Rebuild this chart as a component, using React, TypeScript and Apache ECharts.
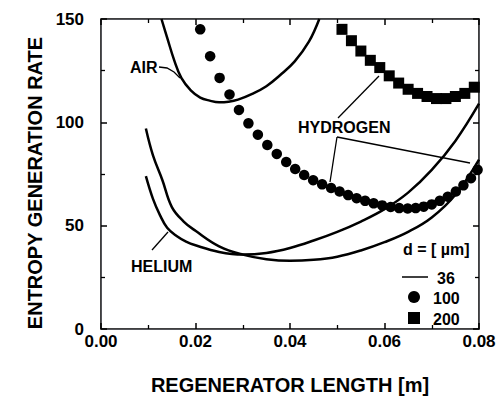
import React, { useEffect, useRef } from "react";
import * as echarts from "echarts";

// Regenerator length [m] and entropy generation rate
const airLength = [0.0128, 0.014, 0.0155, 0.017, 0.019, 0.021, 0.023, 0.025, 0.027, 0.029, 0.032, 0.035, 0.038, 0.041, 0.044, 0.0462];
const airRate = [150, 141, 130, 121.5, 115.5, 112, 110.5, 109.7, 110, 111, 113.8, 117.5, 123, 129.5, 139, 150];

const heliumLength = [0.0095, 0.011, 0.0125, 0.014, 0.016, 0.018, 0.02, 0.025, 0.03, 0.035, 0.04, 0.045, 0.05, 0.055, 0.06, 0.065, 0.07, 0.075, 0.08];
const heliumRate = [74, 63, 55, 49, 45, 42.3, 40.5, 37.3, 36, 36.8, 39.2, 42.8, 47, 52, 58, 66, 77, 91, 109];

const hydrogen36Length = [0.0095, 0.011, 0.013, 0.015, 0.0175, 0.02, 0.025, 0.03, 0.035, 0.04, 0.045, 0.05, 0.055, 0.06, 0.065, 0.07, 0.075, 0.08];
const hydrogen36Rate = [97, 84, 72, 59, 52, 47.5, 40, 36, 33.8, 33, 33.5, 35, 38, 42, 47, 54, 65, 82];

const hydrogen100Length = [0.021, 0.0231, 0.0251, 0.0272, 0.0292, 0.0312, 0.0332, 0.0352, 0.0372, 0.0392, 0.0411, 0.043, 0.0449, 0.0468, 0.0487, 0.0505, 0.0523, 0.0541, 0.0559, 0.0577, 0.0595, 0.0613, 0.0631, 0.0649, 0.0666, 0.0683, 0.07, 0.0717, 0.0734, 0.0751, 0.0767, 0.0783, 0.0797];
const hydrogen100Rate = [145, 132, 121.5, 113.5, 106, 99.5, 94, 89, 84.7, 80.8, 77.4, 74.5, 72, 70, 68.2, 66.5, 64.8, 63.3, 62, 60.8, 59.8, 59, 58.5, 58.3, 58.5, 59.2, 60.3, 62, 64, 66.5, 69.5, 73, 77];

const hydrogen200Length = [0.051, 0.053, 0.055, 0.057, 0.059, 0.061, 0.063, 0.065, 0.067, 0.069, 0.071, 0.073, 0.075, 0.077, 0.079];
const hydrogen200Rate = [145, 139.5, 134.5, 130, 126.5, 122.5, 119, 116, 114, 112.5, 111.5, 111.5, 112.5, 114, 117];

const legendLabels = ["36", "100", "200"];

const pairs = (xs: number[], ys: number[]) => xs.map((x, i) => [x, ys[i]]);

const FONT = "Liberation Sans, Arial, Helvetica, sans-serif";

export default function App() {
  const ref = useRef<HTMLDivElement>(null);

  useEffect(() => {
    if (!ref.current) return;
    const chart = echarts.init(ref.current, undefined, { renderer: "svg" });

    const axisCommon = () => ({
      axisLine: { show: true, onZero: false },
      axisTick: { show: true, inside: true, length: 6, lineStyle: { color: "#000", width: 1.5 } },
      minorTick: { show: true, splitNumber: 2, length: 4, lineStyle: { color: "#000", width: 1.3 } },
      splitLine: { show: false },
    });

    const lineSeries = (xs: number[], ys: number[]) => ({
      type: "line",
      name: "36",
      data: pairs(xs, ys),
      symbol: "none",
      smooth: 0.4,
      lineStyle: { color: "#000", width: 2.5 },
      itemStyle: { color: "#000" },
      z: 3,
    });

    const txt = (text: string, x: number, y: number, size = 16) => ({
      type: "text",
      x,
      y,
      style: { text, fill: "#000", font: `bold ${size}px ${FONT}`, align: "left", verticalAlign: "middle" },
      z: 10,
    });
    const seg = (pts: number[][], w = 1.3) => ({
      type: "polyline",
      shape: { points: pts },
      style: { stroke: "#000", lineWidth: w, fill: "none" },
      z: 10,
    });

    chart.setOption({
      animation: false,
      backgroundColor: "#fff",
      grid: { left: 101, right: 20, top: 19, bottom: 69, show: true, borderColor: "#000", borderWidth: 1.5 },
      xAxis: [
        {
          type: "value",
          min: 0,
          max: 0.08,
          interval: 0.02,
          position: "bottom",
          name: "REGENERATOR LENGTH [m]",
          nameLocation: "middle",
          nameGap: 46,
          nameTextStyle: { color: "#000", fontSize: 20, fontWeight: "bold", fontFamily: FONT },
          axisLabel: {
            color: "#000",
            fontSize: 17,
            fontWeight: "bold",
            fontFamily: FONT,
            margin: 4,
            formatter: (v: number) => v.toFixed(2),
          },
          ...axisCommon(),
        },
        {
          type: "value",
          min: 0,
          max: 0.08,
          interval: 0.02,
          position: "top",
          axisLabel: { show: false },
          ...axisCommon(),
        },
      ],
      yAxis: [
        {
          type: "value",
          min: 0,
          max: 150,
          interval: 50,
          position: "left",
          name: "ENTROPY GENERATION RATE",
          nameLocation: "middle",
          nameGap: 52,
          nameTextStyle: {
            color: "#000",
            fontSize: 20,
            fontWeight: "bold",
            fontFamily: FONT,
            padding: [0, 18, 0, 0],
          },
          axisLabel: {
            color: "#000",
            fontSize: 17,
            fontWeight: "bold",
            fontFamily: FONT,
            margin: 17,
            padding: [0, 0, 6, 0],
          },
          ...axisCommon(),
        },
        {
          type: "value",
          min: 0,
          max: 150,
          interval: 50,
          position: "right",
          axisLabel: { show: false },
          ...axisCommon(),
        },
      ],
      series: [
        lineSeries(airLength, airRate),
        lineSeries(heliumLength, heliumRate),
        lineSeries(hydrogen36Length, hydrogen36Rate),
        {
          type: "scatter",
          name: "100",
          data: pairs(hydrogen100Length, hydrogen100Rate),
          symbol: "circle",
          symbolSize: 10.5,
          itemStyle: { color: "#000", opacity: 1 },
          z: 4,
        },
        {
          type: "scatter",
          name: "200",
          data: pairs(hydrogen200Length, hydrogen200Rate),
          symbol: "rect",
          symbolSize: 11,
          itemStyle: { color: "#000", opacity: 1 },
          z: 4,
        },
      ],
      graphic: [
        txt("AIR", 130, 67),
        seg([[159, 67], [167, 68], [174, 72], [180, 78]]),
        txt("HYDROGEN", 298, 127),
        seg([[338, 118], [379, 76]]),
        seg([[337, 137], [330, 182]]),
        seg([[337, 137], [470, 163]]),
        txt("HELIUM", 131, 266),
        seg([[152, 250], [168, 232]]),
        txt("d = [ µm]", 403, 249),
        // legend
        seg([[402, 277], [428, 277]], 1.5),
        { type: "circle", shape: { cx: 414, cy: 297, r: 6 }, style: { fill: "#000" }, z: 10 },
        { type: "rect", shape: { x: 408, y: 312, width: 12, height: 12 }, style: { fill: "#000" }, z: 10 },
        txt(legendLabels[0], 437, 278),
        txt(legendLabels[1], 433, 298),
        txt(legendLabels[2], 433, 319),
      ],
    });

    return () => chart.dispose();
  }, []);

  return <div ref={ref} style={{ width: 499, height: 400, position: "absolute", left: 0, top: 0 }} />;
}
